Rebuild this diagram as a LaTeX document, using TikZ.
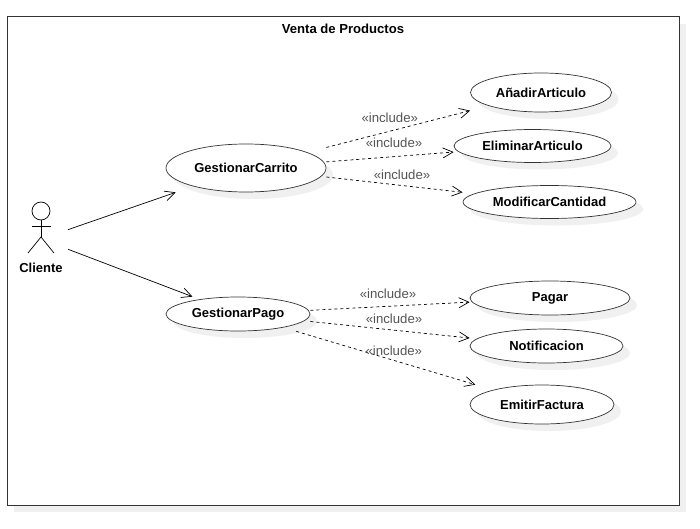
\documentclass[tikz,border=0pt]{standalone}
\usepackage{fontspec}
\setmainfont{Liberation Sans}
\usepackage{xcolor}
\definecolor{base01}{HTML}{f0f0f0}
\definecolor{base02}{HTML}{555555}
\definecolor{base03}{HTML}{333333}
\usepackage{tikz}
\usetikzlibrary{arrows.meta, fit, shadows, shapes}
\tikzset{
    usecase/.style={
        ellipse, draw=base03, fill=white, line width=0.7pt,
        inner sep=0pt,
        font=\fontsize{13}{15}\selectfont\bfseries,
        drop shadow={shadow xshift=7pt, shadow yshift=-7pt, fill=base01, opacity=1},
    },
    box/.style={rectangle, inner sep=0pt, outer sep=0pt},
    frame/.style={
        rectangle, draw=base03, fill=white, line width=1pt,
        drop shadow={shadow xshift=7pt, shadow yshift=-7pt, fill=base01, opacity=1},
    },
    conn/.style={
        line width=0.7pt, draw=black,
        -{Straight Barb[length=10pt, width=10pt]},
    },
    incl/.style={
        conn,
        dash pattern=on 3pt off 3pt,
    },
    lbl/.style={text=base02, font=\fontsize{13.2}{15}\selectfont, inner sep=0pt},
}
\begin{document}
\begin{tikzpicture}
            [x=1pt, y=-1pt]
            \useasboundingbox (0,0) rectangle (700,529);
            % Draw system frame
            \node[frame, minimum width=672pt, minimum height=488pt] (venta) at (343,261) {};
            \node[font=\fontsize{13.1}{15}\selectfont\bfseries, inner sep=0pt] (titulo) at (343,29) {Venta de Productos};

            % Draw actor
            \node[box, minimum width=54pt, minimum height=73pt] (cliente) at (41,239) {};
            \node[circle, draw, line width=0.7pt, inner sep=0pt, minimum size=18pt] (cabeza) at (41,211) {};
            \node[font=\fontsize{13}{15}\selectfont\bfseries, inner sep=0pt] (nombre) at (41,267.5) {Cliente};
            \coordinate (cadera) at (41,237);
            \draw[line width=0.7pt] (cabeza.south) -- (cadera);
            \draw[line width=0.7pt] (32,226) -- (51,226);
            \draw[line width=0.7pt] (28,253) -- (cadera) -- (54,253);

            % Draw use cases
            \node[usecase, minimum width=160pt, minimum height=48pt] (carrito) at (246,168) {GestionarCarrito};
            \node[usecase, minimum width=144pt, minimum height=34pt] (pago) at (238,314) {GestionarPago};
            \node[usecase, minimum width=141pt, minimum height=39pt] (anadir) at (541,92.5) {AñadirArticulo};
            \node[usecase, minimum width=157pt, minimum height=33pt] (eliminar) at (532.5,146) {EliminarArticulo};
            \node[usecase, minimum width=173pt, minimum height=33pt] (modificar) at (549.5,202) {ModificarCantidad};
            \node[usecase, minimum width=160pt, minimum height=34pt] (pagar) at (550,298) {Pagar};
            \node[usecase, minimum width=153pt, minimum height=34pt] (notificacion) at (546.5,346) {Notificacion};
            \node[usecase, minimum width=144pt, minimum height=39pt] (emitir) at (542,404.5) {EmitirFactura};
            \foreach \n in {carrito, pago, anadir, eliminar, modificar, pagar, notificacion, emitir}
                \node[box, fit=(\n)] (\n-box) {};

            \draw[conn] (cliente) -- (carrito-box);
            \draw[conn] (cliente) -- (pago-box);

            \draw[incl] (carrito-box) -- node[lbl, midway, xshift=-8.5pt, yshift=11.5pt] {«include»} (anadir-box);
            \draw[incl] (carrito-box) -- node[lbl, midway, xshift=4pt, yshift=14pt] {«include»} (eliminar-box);
            \draw[incl] (carrito-box) -- node[lbl, midway, xshift=7.5pt, yshift=9.6pt] {«include»} (modificar-box);
            \draw[incl] (pago-box) -- node[lbl, midway, xshift=-2pt, yshift=12pt] {«include»} (pagar-box);
            \draw[incl] (pago-box) -- node[lbl, midway, xshift=4pt, yshift=11pt] {«include»} (notificacion-box);
            \draw[incl] (pago-box) -- node[lbl, midway, xshift=8pt, yshift=7pt] {«include»} (emitir-box);

        \end{tikzpicture}
\end{document}
